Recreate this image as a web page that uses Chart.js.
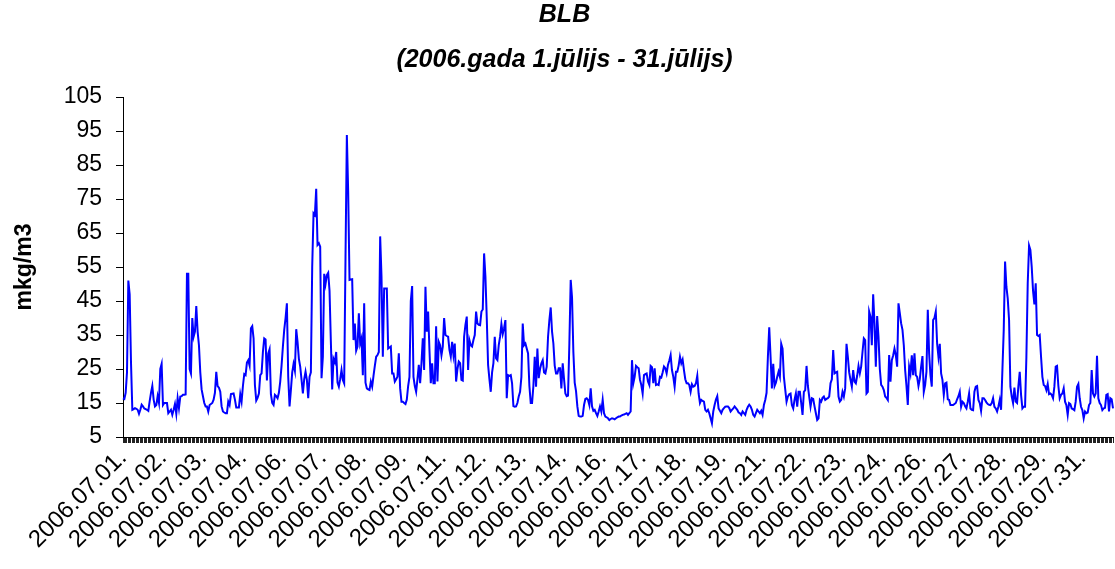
<!DOCTYPE html>
<html>
<head>
<meta charset="utf-8">
<script src="https://cdn.jsdelivr.net/npm/chart.js@4"></script>
<style>
  html, body { margin: 0; padding: 0; background: #fff; }
  #wrap { width: 1115px; height: 569px; }
</style>
</head>
<body>
<div id="wrap"><canvas id="blb"></canvas></div>
<script>
// hourly values, one row per day (00h..23h), July 2006
var days = ["01","02","03","04","05","06","07","08","09","10","11","12","13","14","15","16",
            "17","18","19","20","21","22","23","24","25","26","27","28","29","30","31"];
var tickEvery = 30; // a date label every 30 hours
var yTicks = [5, 15, 25, 35, 45, 55, 65, 75, 85, 95, 105];
var blb = [
  16.4, 16.2, 18, 24, 51, 47, 27, 13, 13.2, 13.5, 13.3, 13, 11.8, 13, 14.5, 14, 13.4, 13.2, 13, 12.7, 15.5, 18, 20, 16,
  14, 14.4, 17, 15, 25, 26.5, 14.4, 15, 15, 15, 12, 12.5, 13, 11.5, 13, 14.7, 11.8, 16.4, 13.5, 16.9, 17, 17.4, 17.4, 17.5,
  53, 53, 25, 23.7, 40, 34.5, 36, 43.5, 36, 32, 24, 19, 17, 15, 14, 14, 12.5, 14.4, 14.7, 15, 16, 18, 24.2, 20,
  19.5, 18.3, 14, 12.5, 12.2, 12, 12, 15.4, 14.4, 17.6, 17.7, 17.8, 16, 13.7, 13.7, 13.7, 17.6, 15.4, 20, 23.5, 23.2, 26.9, 27.6, 26,
  37, 37.6, 34, 20.3, 15.7, 16.5, 17.8, 23.2, 23.7, 30, 34, 33.7, 21.6, 29.6, 30.8, 17.6, 15, 14.4, 17.4, 17, 16.4, 18, 21.3, 26,
  31.6, 36.5, 40, 44.3, 22.7, 14, 18.8, 24, 26.5, 24.5, 36.7, 33, 28, 25.7, 21.8, 17.8, 22, 24.2, 21.8, 16.4, 22.7, 24, 55, 70.8,
  70.3, 78, 61.5, 62, 61, 22.3, 28.6, 53, 50, 52.6, 53.3, 48, 33, 19, 28, 27, 30, 21, 19.8, 22, 24.7, 21.8, 20.8, 58,
  93.8, 77, 51.2, 51.3, 51.4, 33.5, 38.4, 30.4, 31.6, 41.4, 32.5, 34, 23.2, 44.3, 21, 19.3, 19, 18.8, 21.3, 19.8, 23, 25.9, 28.6, 29.1,
  30, 64, 52.3, 28.6, 48.7, 48.7, 48.7, 31, 31.3, 31.6, 23.7, 23.7, 21.3, 22, 22.7, 29.6, 19.3, 15.4, 15.4, 15, 14.7, 16, 20, 22.7,
  45, 49.4, 22.7, 20, 18.3, 22, 26.2, 20.8, 26.7, 34, 24.7, 49.2, 36, 41.9, 30.6, 20.8, 26.7, 20.8, 20.8, 37.6, 21.3, 33, 32, 29,
  31.6, 40, 35, 34.7, 34.5, 30.6, 28.6, 33, 29.1, 32.5, 21.3, 25, 27.2, 26.7, 21.8, 21.6, 34.5, 38, 40.4, 24.7, 33.5, 32, 31.6, 33.5,
  35, 41.9, 38.4, 38, 37.9, 41.9, 42.5, 59, 52.2, 40, 26.2, 22, 18.3, 24, 26.7, 34.5, 28.1, 27.6, 32, 34.5, 38.2, 35.3, 37, 39.4,
  16.4, 23.2, 23, 23.2, 20.8, 14.1, 13.9, 14, 15, 16.9, 18.3, 22.7, 38.4, 32, 32.5, 31, 29.6, 20, 15, 15, 20, 28.6, 19.8, 31,
  22.3, 25, 26.7, 27.6, 24, 23.7, 25.7, 34.5, 39.4, 43.1, 36, 32.5, 26, 23.7, 23.7, 25.2, 25.2, 19.3, 26.7, 22, 17.8, 17, 17.2, 32.5,
  51.2, 46, 30, 21, 18.5, 14, 11.2, 11, 11, 11.2, 14.4, 16.2, 16.4, 15.9, 14.4, 19.3, 14, 12.7, 13, 12, 11.2, 12.5, 14, 12.5,
  15.9, 12, 11, 10.8, 10.5, 10, 10.3, 10.5, 10.4, 10.2, 10.5, 10.8, 11, 11, 11.3, 11.5, 11.6, 11.8, 12, 11.5, 12, 12.5, 27.6, 20.8,
  22.7, 25.9, 25.5, 25.2, 21.8, 20.3, 17.8, 23.2, 23.5, 23.7, 21.3, 20.3, 25.9, 25.5, 20.8, 25.2, 20.3, 20.5, 20.3, 22.7, 22.5, 24, 25.7, 25.2,
  23.7, 26.2, 27.5, 29.1, 24.7, 22.7, 19.8, 24.2, 24.2, 26, 28.6, 26.7, 27.8, 24.7, 22, 20.8, 20.8, 20.3, 18.3, 20.5, 19.8, 20, 20.8, 23,
  17.8, 15, 15.9, 15.6, 15.4, 13, 12.5, 13, 12, 10.5, 9, 12.5, 14.4, 16, 17, 13.4, 12.7, 12, 13, 13.5, 13.9, 14, 14, 13.5,
  12.5, 13, 13.4, 14, 13.5, 13, 12.2, 12, 11.5, 12.5, 12, 11.5, 13, 13.9, 14.5, 14, 13, 11.5, 11, 12, 13, 12.5, 12, 12.7,
  11.5, 14.4, 15.9, 18, 28.6, 37.3, 28.6, 19.3, 26.5, 20, 21, 22.7, 24.2, 22.7, 32.4, 31, 22.7, 19, 15.4, 16.9, 17.6, 17.8, 14.4, 13.4,
  16, 17.8, 13.9, 18.3, 18.3, 15, 11.5, 18.3, 18.8, 25.9, 20, 16.9, 13.9, 16.4, 16.2, 14, 12, 10, 10.5, 15.9, 15.4, 16.5, 16.9, 15.9,
  16.2, 16.4, 16.9, 20.8, 22, 30.6, 23.7, 24, 24.2, 16.9, 15.4, 15.9, 18.3, 16.9, 19.3, 32.4, 28.6, 24, 21.8, 19.8, 24.7, 21.3, 20.8, 23,
  25.9, 23.7, 25.7, 30, 34, 33.5, 17.8, 18.3, 41.9, 40.4, 32, 47, 38.4, 25.7, 40.6, 34.5, 25, 20.3, 19.8, 18.8, 16.9, 16.5, 15.9, 29.1,
  21.3, 27.6, 29, 31, 29.1, 25.7, 44.3, 41.4, 38.4, 36.5, 32, 24.7, 20, 14.4, 25.7, 23.7, 29, 23.2, 29.6, 23.2, 22.7, 20, 22, 25.7,
  28.8, 18.3, 20.3, 24.2, 42.4, 29.6, 23.2, 19.8, 39.4, 40, 41.9, 32.5, 28.6, 32.4, 23.7, 21.8, 17.4, 20.8, 21, 16.1, 15.9, 14.4, 14.4, 14.4,
  14.7, 15, 16.1, 17, 18.3, 13.9, 15.4, 15, 14, 13.4, 15.4, 17.8, 13.4, 13, 12.9, 18.3, 19.8, 20, 15.9, 15, 12.7, 16.4, 16.4, 15.9,
  15.2, 14.7, 14.5, 14.4, 15, 16.4, 13.9, 13.4, 12.5, 14, 15.9, 13, 24.7, 36.5, 56.6, 49.2, 45.7, 39.4, 19.8, 16.9, 15, 19.5, 15.4, 15,
  20, 24.2, 17.4, 13.4, 13.9, 13.9, 28.6, 50.2, 61.3, 60, 55, 48, 44, 50.2, 35, 34.7, 35, 28.6, 22.7, 20.3, 20, 18.8, 20.6, 17.6,
  17.8, 17.4, 16.4, 19.8, 25.7, 25.9, 20, 16.4, 17.4, 17.8, 19.3, 15.4, 14.4, 11.5, 15, 14.7, 13.4, 13.2, 12.9, 15.4, 19.8, 20.6, 16.4, 13.9,
  12.9, 10.5, 12.5, 12, 12.2, 14.4, 15, 24.7, 17.8, 16.9, 17.8, 28.9, 16.4, 15, 14.4, 12.9, 13.4, 13.6, 17.4, 17.6, 12.5, 16.4, 16.1, 13.4
];

var labels = [];
days.forEach(function (d) {
  for (var h = 0; h < 24; h++) labels.push("2006.07." + d + ".");
});

var font = "'Liberation Sans', Arial, sans-serif";
var ctx = document.getElementById("blb");
var myChart = new Chart(ctx, {
  type: "line",
  data: {
    labels: labels,
    datasets: [{
      label: "BLB",
      data: blb,
      borderColor: "#0000ff",
      borderWidth: 2,
      pointRadius: 0,
      tension: 0,
      fill: false
    }]
  },
  options: {
    responsive: true,
    maintainAspectRatio: false,
    animation: false,
    layout: { padding: { left: 16, right: 2, top: 0, bottom: 0 } },
    plugins: {
      legend: { display: false },
      tooltip: { enabled: false },
      title: {
        display: true,
        text: "BLB",
        color: "#000",
        font: { family: font, size: 25, weight: "bold", style: "italic" },
        padding: { top: 0, bottom: 15 }
      },
      subtitle: {
        display: true,
        text: "(2006.gada 1.jūlijs - 31.jūlijs)",
        color: "#000",
        font: { family: font, size: 25, weight: "bold", style: "italic" },
        padding: { top: 0, bottom: 22 }
      }
    },
    scales: {
      x: {
        offset: false,
        grid: { display: true, drawOnChartArea: false, drawTicks: true, tickLength: 6, color: "#222", lineWidth: 1 },
        border: { display: true, color: "#000", width: 1 },
        ticks: {
          autoSkip: false,
          maxRotation: 45,
          minRotation: 45,
          padding: 1,
          color: "#000",
          font: { family: font, size: 24 },
          callback: function (v, i) { return i % tickEvery === 0 ? labels[i] : ""; }
        },
        afterFit: function (s) { s.height = 132; s.paddingLeft = 0; s.paddingRight = 0; }
      },
      y: {
        min: 5,
        max: 105,
        afterBuildTicks: function (s) { s.ticks = yTicks.map(function (v) { return { value: v }; }); },
        grid: { display: true, drawOnChartArea: false, drawTicks: true, tickLength: 7, color: "#000" },
        border: { display: true, color: "#000", width: 1 },
        ticks: { color: "#000", padding: 14, font: { family: font, size: 23 } },
        title: {
          display: true,
          text: "mkg/m3",
          color: "#000",
          padding: { top: -5, bottom: 0 },
          font: { family: font, size: 23, weight: "bold" }
        },
        afterFit: function (s) { s.width = 107; }
      }
    }
  }
});
</script>
</body>
</html>
